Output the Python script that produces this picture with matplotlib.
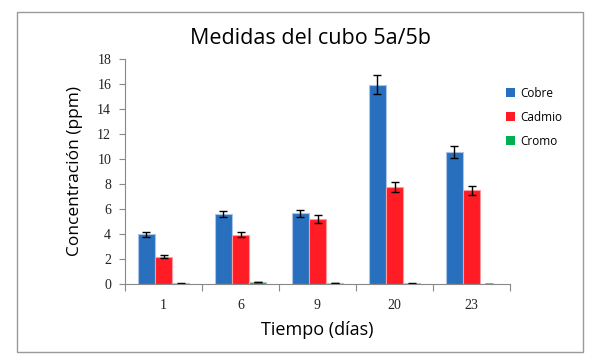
import matplotlib
matplotlib.use("Agg")
import matplotlib.pyplot as plt
import numpy as np
from matplotlib.patches import Rectangle

categories = ["1", "6", "9", "20", "23"]
cobre = [4.0, 5.6, 5.65, 15.95, 10.55]
cobre_err = [0.2, 0.22, 0.3, 0.78, 0.5]
cadmio = [2.2, 3.95, 5.2, 7.75, 7.5]
cadmio_err = [0.1, 0.2, 0.3, 0.4, 0.35]
cromo = [0.05, 0.15, 0.08, 0.05, 0.0]
cromo_err = [0.02, 0.02, 0.02, 0.02, 0.0]
series_names = ["Cobre", "Cadmio", "Cromo"]
colors = ["#2870BE", "#FF1C24", "#00B050"]
edge_colors = ["#A9C4E6", "#FF9A9E", "#9ED9B4"]

fig = plt.figure(figsize=(5.96, 3.64), dpi=100)
ax = fig.add_axes([125/596, 1-284/364, (510-125)/596, (284-59)/364])

x = np.arange(len(categories))
w = 0.225
data = [(cobre, cobre_err), (cadmio, cadmio_err), (cromo, cromo_err)]
for i, (vals, errs) in enumerate(data):
    ax.bar(x + (i-1)*w, vals, w, color=colors[i], edgecolor=edge_colors[i], linewidth=0.8,
           yerr=errs, error_kw=dict(ecolor="black", elinewidth=1.0, capsize=3, capthick=1.0),
           label=series_names[i], zorder=2)

ax.set_xlim(-0.5, len(categories)-0.5)
ax.set_ylim(0, 18)
ax.set_yticks(np.arange(0, 19, 2))
ax.set_xticks(x)
ax.set_xticklabels(categories)
ax.set_xticks(np.arange(-0.5, len(categories), 1), minor=True)
ax.tick_params(axis="x", which="major", length=0, pad=11)
ax.tick_params(axis="x", which="minor", length=5, color="#888888", width=0.8, direction="out")
ax.tick_params(axis="y", length=4, color="#888888", width=0.8, direction="out", pad=6)
for lbl in ax.get_xticklabels() + ax.get_yticklabels():
    lbl.set_fontfamily("Liberation Serif")
    lbl.set_fontsize(10)
    lbl.set_color("#222222")
for s in ["top", "right"]:
    ax.spines[s].set_visible(False)
for s in ["left", "bottom"]:
    ax.spines[s].set_color("#888888")
    ax.spines[s].set_linewidth(0.8)

ax.set_xlabel("Tiempo (días)", fontfamily="Open Sans", fontsize=13, labelpad=6)
ax.set_ylabel("Concentración (ppm)", fontfamily="Open Sans", fontsize=12.5, labelpad=10)
fig.text(310/596, 1-38/364, "Medidas del cubo 5a/5b", ha="center", va="center",
         fontfamily="Open Sans", fontsize=15.5)

handles, labels = ax.get_legend_handles_labels()
leg = fig.legend(handles, labels, loc="upper left", bbox_to_anchor=(495/596, 1-76/364),
                 frameon=False, prop={"family": "Open Sans", "size": 8.5},
                 handlelength=0.8, handleheight=0.8, labelspacing=0.95, handletextpad=0.4)
for h in leg.legend_handles:
    h.set_edgecolor("none")

fig.patches.append(Rectangle((17/596, 1-352/364), (583-17)/596, (352-12)/364,
                             transform=fig.transFigure, fill=False, edgecolor="#999999",
                             linewidth=1.0))
fig.savefig("out.png", dpi=100)
